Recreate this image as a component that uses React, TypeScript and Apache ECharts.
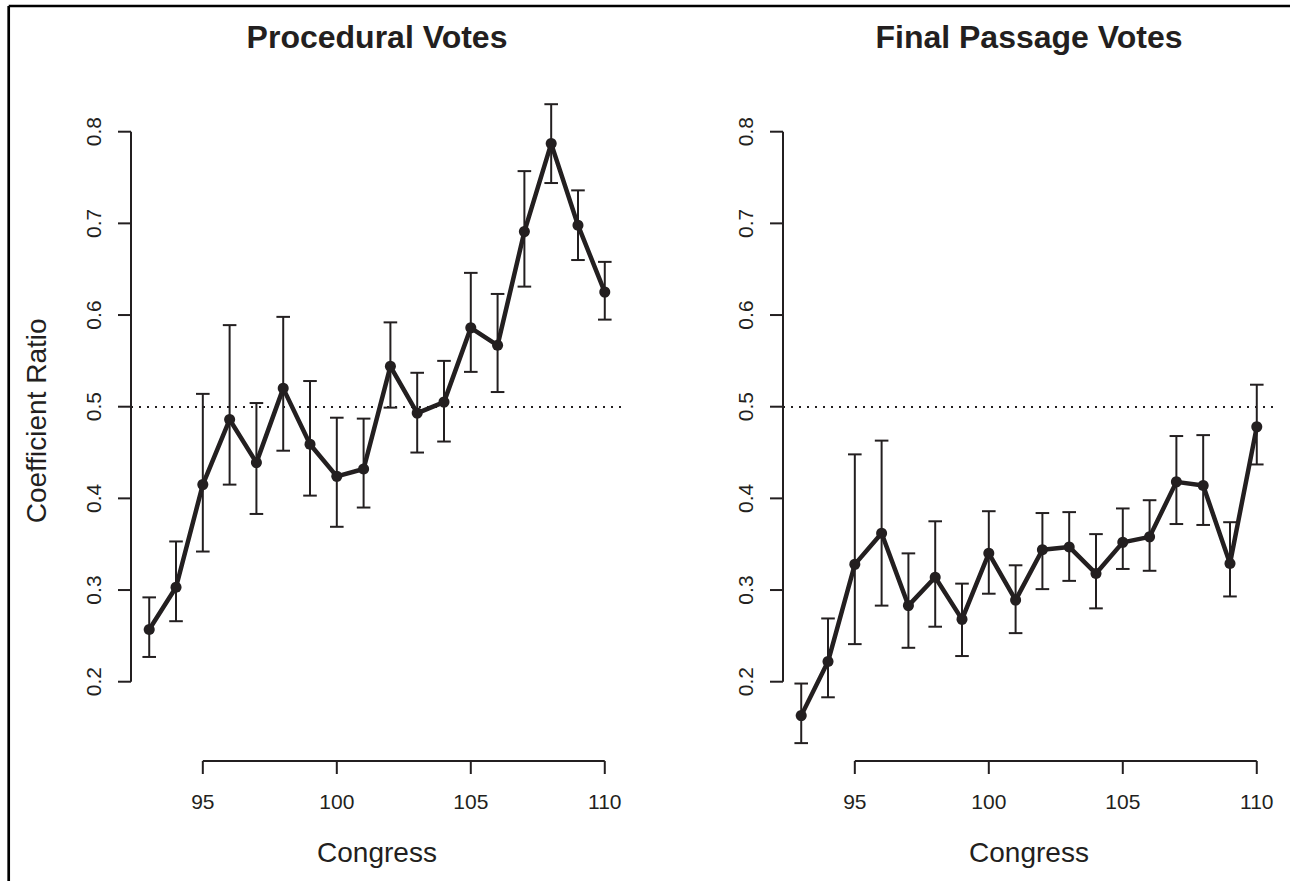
import React, { useEffect, useRef } from "react";
import * as echarts from "echarts";

// ---- data ----
const congress = [93, 94, 95, 96, 97, 98, 99, 100, 101, 102, 103, 104, 105, 106, 107, 108, 109, 110];

const procEst = [0.257, 0.303, 0.415, 0.486, 0.439, 0.520, 0.459, 0.424, 0.432, 0.544, 0.493, 0.505, 0.586, 0.567, 0.691, 0.787, 0.698, 0.625];
const procLow = [0.227, 0.266, 0.342, 0.415, 0.383, 0.452, 0.403, 0.369, 0.390, 0.499, 0.450, 0.462, 0.538, 0.516, 0.631, 0.744, 0.660, 0.595];
const procHigh = [0.292, 0.353, 0.514, 0.589, 0.504, 0.598, 0.528, 0.488, 0.487, 0.592, 0.537, 0.550, 0.646, 0.623, 0.757, 0.830, 0.736, 0.658];

const finalEst = [0.163, 0.222, 0.328, 0.362, 0.283, 0.314, 0.268, 0.340, 0.289, 0.344, 0.347, 0.318, 0.352, 0.358, 0.418, 0.414, 0.329, 0.478];
const finalLow = [0.133, 0.183, 0.241, 0.283, 0.237, 0.260, 0.228, 0.296, 0.253, 0.301, 0.310, 0.280, 0.323, 0.321, 0.372, 0.371, 0.293, 0.437];
const finalHigh = [0.198, 0.269, 0.448, 0.463, 0.340, 0.375, 0.307, 0.386, 0.327, 0.384, 0.385, 0.361, 0.389, 0.398, 0.468, 0.469, 0.374, 0.524];

const xTicks = [95, 100, 105, 110];
const yTicks = [0.2, 0.3, 0.4, 0.5, 0.6, 0.7, 0.8];
const yTickLabels = ["0.2", "0.3", "0.4", "0.5", "0.6", "0.7", "0.8"];
const refLine = 0.5;

const panelTitles = ["Procedural Votes", "Final Passage Votes"];
const xTitle = "Congress";
const yTitle = "Coefficient Ratio";

// ---- styling / layout ----
const INK = "#231f20";
const FONT = '"Liberation Sans", Arial, Helvetica, sans-serif';
const X_MIN = 92.32;
const X_MAX = 110.68;
const Y_MIN = 0.1135;
const Y_MAX = 0.86;
const GRID_TOP = 76.7;
const GRID_H = 684.3;
const GRID_W = 492;
const GRID_LEFTS = [131, 783];
const TICK_FONT = 21;

function axesRender(params: any, api: any) {
  const children: any[] = [];
  const a = api.coord([xTicks[0], Y_MIN]);
  const b = api.coord([xTicks[xTicks.length - 1], Y_MIN]);
  children.push({ type: "line", shape: { x1: a[0], y1: a[1], x2: b[0], y2: b[1] }, style: { stroke: INK, lineWidth: 2 } });
  xTicks.forEach((t) => {
    const p = api.coord([t, Y_MIN]);
    children.push({ type: "line", shape: { x1: p[0], y1: p[1], x2: p[0], y2: p[1] + 13 }, style: { stroke: INK, lineWidth: 2 } });
    children.push({
      type: "text",
      x: p[0],
      y: p[1] + 40,
      style: { text: String(t), textAlign: "center", textVerticalAlign: "middle", fontSize: TICK_FONT, fontFamily: FONT, fill: INK },
    });
  });
  const c = api.coord([X_MIN, yTicks[0]]);
  const d = api.coord([X_MIN, yTicks[yTicks.length - 1]]);
  children.push({ type: "line", shape: { x1: c[0], y1: c[1], x2: d[0], y2: d[1] }, style: { stroke: INK, lineWidth: 2 } });
  yTicks.forEach((t, i) => {
    const p = api.coord([X_MIN, t]);
    children.push({ type: "line", shape: { x1: p[0], y1: p[1], x2: p[0] - 13, y2: p[1] }, style: { stroke: INK, lineWidth: 2 } });
    children.push({
      type: "text",
      x: p[0] - 38,
      y: p[1],
      rotation: Math.PI / 2,
      style: { text: yTickLabels[i], textAlign: "center", textVerticalAlign: "middle", fontSize: TICK_FONT, fontFamily: FONT, fill: INK },
    });
  });
  return { type: "group", children };
}

function errRender(params: any, api: any) {
  const x = api.value(0);
  const lo = api.coord([x, api.value(1)]);
  const hi = api.coord([x, api.value(2)]);
  const hw = 6.8;
  const st = { stroke: INK, lineWidth: 2 };
  return {
    type: "group",
    children: [
      { type: "line", shape: { x1: lo[0], y1: lo[1], x2: hi[0], y2: hi[1] }, style: st },
      { type: "line", shape: { x1: lo[0] - hw, y1: lo[1], x2: lo[0] + hw, y2: lo[1] }, style: st },
      { type: "line", shape: { x1: hi[0] - hw, y1: hi[1], x2: hi[0] + hw, y2: hi[1] }, style: st },
    ],
  };
}

function buildOption() {
  const panels = [
    { est: procEst, low: procLow, high: procHigh },
    { est: finalEst, low: finalLow, high: finalHigh },
  ];
  const grid = GRID_LEFTS.map((l) => ({ left: l, top: GRID_TOP, width: GRID_W, height: GRID_H }));
  const xAxis = GRID_LEFTS.map((_, i) => ({ type: "value", gridIndex: i, min: X_MIN, max: X_MAX, show: false }));
  const yAxis = GRID_LEFTS.map((_, i) => ({ type: "value", gridIndex: i, min: Y_MIN, max: Y_MAX, show: false }));
  const series: any[] = [];
  panels.forEach((p, i) => {
    series.push({
      type: "custom",
      name: "axes" + i,
      xAxisIndex: i,
      yAxisIndex: i,
      clip: false,
      silent: true,
      data: [[X_MIN, Y_MIN]],
      renderItem: axesRender,
    });
    series.push({
      type: "custom",
      name: "err" + i,
      xAxisIndex: i,
      yAxisIndex: i,
      clip: false,
      silent: true,
      encode: { x: 0, y: [1, 2] },
      data: congress.map((c, k) => [c, p.low[k], p.high[k]]),
      renderItem: errRender,
    });
    series.push({
      type: "line",
      name: "est" + i,
      xAxisIndex: i,
      yAxisIndex: i,
      data: congress.map((c, k) => [c, p.est[k]]),
      symbol: "circle",
      symbolSize: 11,
      showSymbol: true,
      itemStyle: { color: INK },
      lineStyle: { color: INK, width: 4.5 },
      silent: true,
      z: 5,
      markLine: {
        silent: true,
        symbol: "none",
        label: { show: false },
        lineStyle: { color: INK, width: 2, type: [2, 6] },
        data: [{ yAxis: refLine }],
      },
    });
  });

  const centers = GRID_LEFTS.map((l) => l + GRID_W / 2);
  const graphic: any[] = [
    { type: "line", shape: { x1: 8.7, y1: 6, x2: 1290, y2: 6 }, style: { stroke: "#000", lineWidth: 2.5 } },
    { type: "line", shape: { x1: 8.7, y1: 6, x2: 8.7, y2: 881 }, style: { stroke: "#000", lineWidth: 2.7 } },
    {
      type: "text",
      x: 36,
      y: GRID_TOP + GRID_H / 2 + 2,
      rotation: Math.PI / 2,
      style: { text: yTitle, textAlign: "center", textVerticalAlign: "middle", fontSize: 28, fontFamily: FONT, fill: INK },
    },
  ];
  centers.forEach((cx, i) => {
    graphic.push({
      type: "text",
      x: cx,
      y: 37,
      style: { text: panelTitles[i], textAlign: "center", textVerticalAlign: "middle", fontSize: 32, fontWeight: "bold", fontFamily: FONT, fill: INK },
    });
    graphic.push({
      type: "text",
      x: cx,
      y: 852,
      style: { text: xTitle, textAlign: "center", textVerticalAlign: "middle", fontSize: 28, fontFamily: FONT, fill: INK },
    });
  });

  return { animation: false, backgroundColor: "#fff", grid, xAxis, yAxis, series, graphic };
}

export default function App() {
  const ref = useRef<HTMLDivElement>(null);
  useEffect(() => {
    if (!ref.current) return;
    const chart = echarts.init(ref.current, null, { renderer: "svg" });
    chart.setOption(buildOption() as any);
    return () => chart.dispose();
  }, []);
  return <div ref={ref} style={{ position: "absolute", left: 0, top: 0, width: 1290, height: 881, background: "#fff" }} />;
}
